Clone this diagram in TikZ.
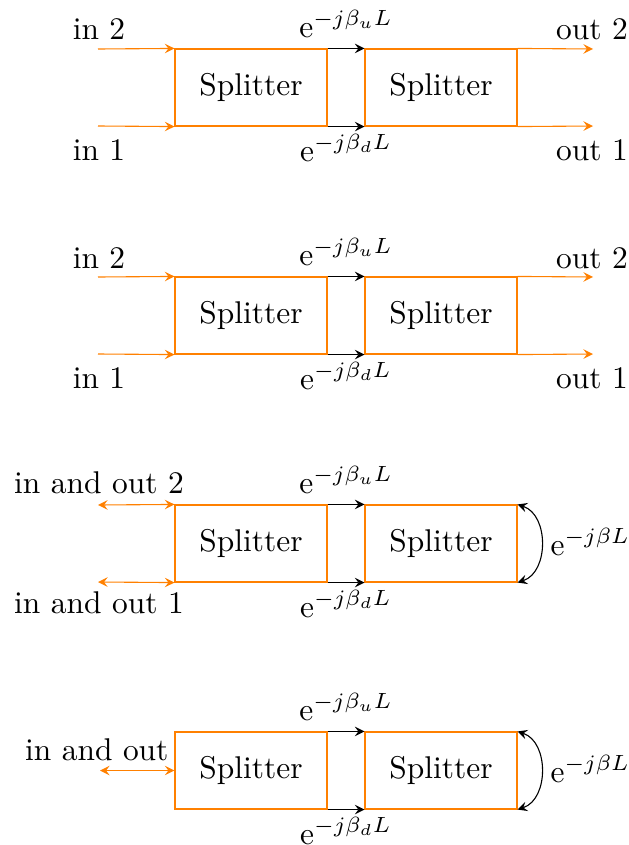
\documentclass[tikz,border=0pt]{standalone}
\usetikzlibrary{arrows}
\begin{document}
\begin{tikzpicture}[x=0.318pt,y=-0.318pt,line width=0.35pt,
  splitbox/.style={draw=orange,rectangle,minimum width=48.34pt,minimum height=24.49pt,inner sep=0pt},
  oarr/.style={draw=orange,-stealth},
  odarr/.style={draw=orange,stealth-stealth},
  barr/.style={draw=black,-stealth},
  lab/.style={anchor=base,inner sep=0pt}]
\useasboundingbox (0,0) rectangle (629,845);
% ---------- diagram 1 ----------
\begin{scope}
\node[splitbox] (a1) at (251,87.5) {Splitter};
\node[splitbox] (a2) at (441,87.5) {Splitter};
\coordinate (a1i2) at (98,49); \coordinate (a1i1) at (98,126);
\coordinate (a1o2) at (593,49); \coordinate (a1o1) at (593,126);
\draw[oarr] (a1i2) -- (a1.north west);
\draw[oarr] (a1i1) -- (a1.south west);
\draw[oarr] (a2.north east) -- (a1o2);
\draw[oarr] (a2.south east) -- (a1o1);
\draw[barr] (a1.north east) -- (a2.north west);
\draw[barr] (a1.south east) -- (a2.south west);
\node[lab] (a1l2) at (99,40) {in 2};
\node[lab] (a1l1) at (99,160) {in 1};
\node[lab] (a1r2) at (592,40) {out 2};
\node[lab] (a1r1) at (592,160) {out 1};
\node[lab] (a1eu) at (346,37) {e$^{-j\beta_uL}$};
\node[lab] (a1ed) at (346,161) {e$^{-j\beta_dL}$};
\end{scope}
% ---------- diagram 2 ----------
\begin{scope}[yshift=-228*0.318pt]
\node[splitbox] (b1) at (251,87.5) {Splitter};
\node[splitbox] (b2) at (441,87.5) {Splitter};
\coordinate (b1i2) at (98,49); \coordinate (b1i1) at (98,126);
\coordinate (b1o2) at (593,49); \coordinate (b1o1) at (593,126);
\draw[oarr] (b1i2) -- (b1.north west);
\draw[oarr] (b1i1) -- (b1.south west);
\draw[oarr] (b2.north east) -- (b1o2);
\draw[oarr] (b2.south east) -- (b1o1);
\draw[barr] (b1.north east) -- (b2.north west);
\draw[barr] (b1.south east) -- (b2.south west);
\node[lab] (b1l2) at (99,40) {in 2};
\node[lab] (b1l1) at (99,160) {in 1};
\node[lab] (b1r2) at (592,40) {out 2};
\node[lab] (b1r1) at (592,160) {out 1};
\node[lab] (b1eu) at (346,37) {e$^{-j\beta_uL}$};
\node[lab] (b1ed) at (346,161) {e$^{-j\beta_dL}$};
\end{scope}
% ---------- diagram 3 ----------
\begin{scope}[yshift=-456*0.318pt]
\node[splitbox] (c1) at (251,87.5) {Splitter};
\node[splitbox] (c2) at (441,87.5) {Splitter};
\coordinate (c1i2) at (98,49); \coordinate (c1i1) at (98,126);
\draw[odarr] (c1i2) -- (c1.north west);
\draw[odarr] (c1i1) -- (c1.south west);
\draw[barr] (c1.north east) -- (c2.north west);
\draw[barr] (c1.south east) -- (c2.south west);
\draw[stealth-stealth] (c2.north east) .. controls (549,59) and (549,116) .. (c2.south east);
\node[lab] (c1l2) at (99,37) {in and out 2};
\node[lab] (c1l1) at (99,157) {in and out 1};
\node[lab] (c1eu) at (346,37) {e$^{-j\beta_uL}$};
\node[lab] (c1ed) at (346,161) {e$^{-j\beta_dL}$};
\node[lab,anchor=base west] (c1e) at (550,99) {e$^{-j\beta L}$};
\end{scope}
% ---------- diagram 4 ----------
\begin{scope}[yshift=-683*0.318pt]
\node[splitbox] (d1) at (251,87.5) {Splitter};
\node[splitbox] (d2) at (441,87.5) {Splitter};
\coordinate (d1i) at (100,87.5);
\draw[odarr] (d1i) -- (d1.west);
\draw[barr] (d1.north east) -- (d2.north west);
\draw[barr] (d1.south east) -- (d2.south west);
\draw[stealth-stealth] (d2.north east) .. controls (549,59) and (549,116) .. (d2.south east);
\node[lab,anchor=base east] (d1l) at (169,77) {in and out};
\node[lab] (d1eu) at (346,37) {e$^{-j\beta_uL}$};
\node[lab] (d1ed) at (346,161) {e$^{-j\beta_dL}$};
\node[lab,anchor=base west] (d1e) at (550,99) {e$^{-j\beta L}$};
\end{scope}
\end{tikzpicture}
\end{document}
